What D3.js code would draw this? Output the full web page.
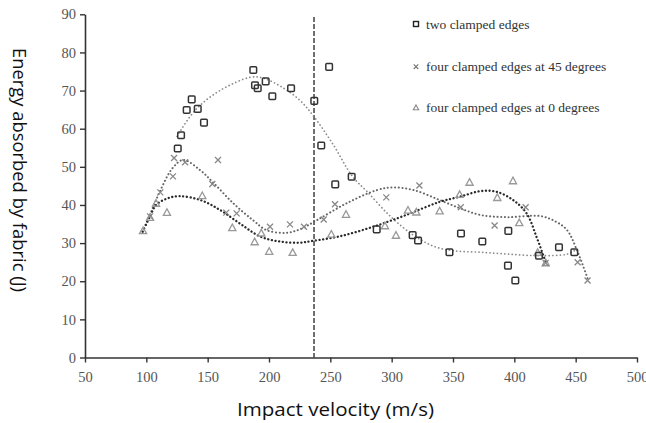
<!DOCTYPE html>
<html>
<head>
<meta charset="utf-8">
<script src="https://cdn.jsdelivr.net/npm/d3@7"></script>
<style>
  body { margin: 0; background: #fff; }
  svg { display: block; }
</style>
</head>
<body>
<svg id="chart" width="646" height="423"></svg>
<script>
// SERIES: two clamped edges (squares)
var two_x = [125.6, 128.3, 132.9, 137, 141.9, 147, 187.2, 188.6, 190.8, 197.3, 202.7, 218, 236.9, 249, 242.6, 267.4,
  254, 287.8, 317.1, 321.5, 347.1, 356.5, 373.9, 395.1, 394.8, 400.8, 420.1, 436.4, 448.9];
var two_y = [54.8, 58.3, 64.9, 67.7, 65.2, 61.6, 75.4, 71.4, 70.6, 72.4, 68.5, 70.6, 67.3, 76.2, 55.6, 47.4,
  45.4, 33.6, 32.1, 30.7, 27.6, 32.5, 30.4, 33.2, 24.1, 20.2, 26.7, 28.9, 27.6];

// SERIES: four clamped edges at 45 degrees (crosses)
var f45_x = [103, 111.4, 121.7, 122.6, 131.6, 153.8, 158.4, 165.2, 173.6, 200.8, 217.1, 228.5, 244.6, 253.8,
  295.6, 322.6, 356.3, 383.9, 409.2, 425.5, 451.6, 459.7];
var f45_y = [37, 43.3, 47.5, 52.3, 51.2, 45.5, 51.8, 38, 37.8, 34.3, 34.9, 34.3, 36.2, 40.2,
  42, 45.1, 39.4, 34.6, 39.4, 24.8, 25, 20.2];

// SERIES: four clamped edges at 0 degrees (triangles)
var f0_x = [97.3, 103, 107.9, 116.8, 145.6, 170.1, 188.3, 193.7, 200.2, 219.3, 250.8, 262.8, 294.5, 303.5,
  313.3, 320.1, 339.1, 355.4, 363.5, 386.1, 398.9, 404, 419, 425.6];
var f0_y = [33.2, 36.7, 40.4, 38, 42.4, 34, 30.3, 32.6, 27.8, 27.5, 32.3, 37.5, 34.5, 32,
  38.6, 38.1, 38.4, 42.7, 45.9, 41.9, 46.3, 35.3, 27.5, 24.8];

// FITTED TREND CURVES
var two_fit_x = [125, 140, 160, 185, 195, 210, 225, 237, 252, 268, 280, 299, 318, 334, 350, 372, 395, 420, 443, 450];
var two_fit_y = [58, 64.9, 70, 73.5, 73.3, 71, 67.5, 63, 56, 47.5, 43.5, 37, 32, 29.2, 28, 27.6, 27.1, 26.7, 27.1, 28.2];

var f45_fit_x = [97, 103, 111, 121, 130, 144, 155, 171, 187, 198, 214, 225, 239, 263, 288, 301, 318, 339, 356, 372, 394, 421, 434, 443, 451, 460];
var f45_fit_y = [33, 37.5, 43.5, 49.5, 51.8, 49.1, 45.7, 40.4, 36, 33.4, 32.7, 33.6, 36, 40.4, 43.9, 44.6, 43.9, 41.3, 39.1, 37.4, 36.8, 37.1, 35.6, 33.4, 28.2, 20.5];

var f0_fit_x = [97, 103, 108, 117, 127, 144, 160, 176, 193, 209, 225, 236, 258, 285, 312, 339, 356, 372, 385, 399, 410, 418, 424, 426];
var f0_fit_y = [33, 37, 40, 41.7, 42.3, 41.3, 38.7, 35.2, 31.7, 30.4, 30.1, 30.6, 31.8, 34.3, 37.4, 40.8, 42.2, 43.6, 43.5, 41.3, 37.8, 31.7, 26.4, 24.5];

// VERTICAL REFERENCE LINE
var ref_velocity = 236.7;

// AXES
var x_ticks = [50, 100, 150, 200, 250, 300, 350, 400, 450, 500];
var y_ticks = [0, 10, 20, 30, 40, 50, 60, 70, 80, 90];

var legend_labels = ["two clamped edges", "four clamped edges at 45 degrees", "four clamped edges at 0 degrees"];

var serif = "'Liberation Serif', 'Times New Roman', 'DejaVu Serif', serif";

var svg = d3.select("#chart");

var xScale = d3.scaleLinear().domain([50, 500]).range([85, 637]);
var yScale = d3.scaleLinear().domain([0, 90]).range([357.5, 14.3]);

// x axis
var x_axis = svg.append("g")
  .attr("transform", "translate(0," + yScale(0) + ")")
  .call(d3.axisBottom(xScale).tickValues(x_ticks).tickSize(5).tickSizeOuter(0).tickPadding(4));

// y axis
var y_axis = svg.append("g")
  .attr("transform", "translate(" + xScale(50) + ",0)")
  .call(d3.axisLeft(yScale).tickValues(y_ticks).tickSize(5).tickSizeOuter(0).tickPadding(4));

[x_axis, y_axis].forEach(a => {
  a.attr("font-family", serif).attr("font-size", 14.5);
  a.select(".domain").attr("stroke", "#333").attr("stroke-width", 1.6);
  a.selectAll(".tick line").attr("stroke", "#333").attr("stroke-width", 1.4);
  a.selectAll(".tick text").attr("fill", "#555");
});
x_axis.selectAll(".tick text").attr("dy", "1.05em");

// dashed reference line
svg.append("line")
  .attr("x1", xScale(ref_velocity)).attr("x2", xScale(ref_velocity))
  .attr("y1", yScale(89.3)).attr("y2", yScale(0))
  .attr("stroke", "#333").attr("stroke-width", 1.4)
  .attr("stroke-dasharray", "5,2");

// trend curves
var line = d3.line()
  .x(d => xScale(d[0]))
  .y(d => yScale(d[1]))
  .curve(d3.curveCatmullRom.alpha(0.5));

var fits = [
  {x: two_fit_x, y: two_fit_y, colour: "#8a8a8a", width: 1.7},
  {x: f45_fit_x, y: f45_fit_y, colour: "#666", width: 2},
  {x: f0_fit_x, y: f0_fit_y, colour: "#2a2a2a", width: 2.3}
];
fits.forEach(f => {
  svg.append("path")
    .datum(f.x.map((v, i) => [v, f.y[i]]))
    .attr("d", line)
    .attr("fill", "none")
    .attr("stroke", f.colour)
    .attr("stroke-width", f.width)
    .attr("stroke-linecap", "round")
    .attr("stroke-dasharray", "0.1,3.6");
});

// marker drawing
function drawSquare(g, cx, cy) {
  g.append("rect")
    .attr("x", cx - 3.3).attr("y", cy - 3.3)
    .attr("width", 6.6).attr("height", 6.6).attr("rx", 1)
    .attr("fill", "none").attr("stroke", "#333").attr("stroke-width", 1.5);
}
function drawCross(g, cx, cy) {
  g.append("path")
    .attr("d", "M" + (cx - 3) + "," + (cy - 3) + "L" + (cx + 3) + "," + (cy + 3) +
      "M" + (cx - 3) + "," + (cy + 3) + "L" + (cx + 3) + "," + (cy - 3))
    .attr("stroke", "#888").attr("stroke-width", 1.3).attr("fill", "none");
}
function drawTriangle(g, cx, cy) {
  g.append("path")
    .attr("d", "M" + cx + "," + (cy - 3.8) + "L" + (cx + 3.6) + "," + (cy + 2.8) + "L" + (cx - 3.6) + "," + (cy + 2.8) + "Z")
    .attr("stroke", "#999").attr("stroke-width", 1.3).attr("fill", "none");
}

var marks = svg.append("g");
f0_x.forEach((v, i) => drawTriangle(marks, xScale(v), yScale(f0_y[i])));
f45_x.forEach((v, i) => drawCross(marks, xScale(v), yScale(f45_y[i])));
two_x.forEach((v, i) => drawSquare(marks, xScale(v), yScale(two_y[i])));

// legend
var legend = svg.append("g");
var legend_rows = [24, 66.7, 107.7];
var legend_drawers = [
  (g, cx, cy) => { g.append("rect").attr("x", cx - 2.5).attr("y", cy - 2.5).attr("width", 5).attr("height", 5)
      .attr("fill", "none").attr("stroke", "#222").attr("stroke-width", 1.4); },
  (g, cx, cy) => { g.append("path").attr("d", "M" + (cx - 2.3) + "," + (cy - 2.3) + "L" + (cx + 2.3) + "," + (cy + 2.3) +
      "M" + (cx - 2.3) + "," + (cy + 2.3) + "L" + (cx + 2.3) + "," + (cy - 2.3)).attr("stroke", "#777").attr("stroke-width", 1.1); },
  (g, cx, cy) => { g.append("path").attr("d", "M" + cx + "," + (cy - 2.8) + "L" + (cx + 2.7) + "," + (cy + 2) + "L" + (cx - 2.7) + "," + (cy + 2) + "Z")
      .attr("fill", "none").attr("stroke", "#888").attr("stroke-width", 1.1); }
];
legend_labels.forEach((lab, i) => {
  legend_drawers[i](legend, 416, legend_rows[i]);
  legend.append("text")
    .attr("font-family", serif)
    .attr("font-size", 13.5)
    .attr("fill", "#333")
    .attr("x", 426)
    .attr("y", legend_rows[i] + 4.5)
    .text(lab);
});

// axis titles
svg.append("text")
  .attr("font-family", "'Open Sans', sans-serif")
  .attr("font-size", 19)
  .attr("fill", "#111")
  .attr("x", 237)
  .attr("y", 416)
  .attr("textLength", 197)
  .attr("lengthAdjust", "spacingAndGlyphs")
  .text("Impact velocity (m/s)");

svg.append("text")
  .attr("font-family", "'Open Sans', sans-serif")
  .attr("font-size", 19)
  .attr("fill", "#111")
  .attr("transform", "translate(13,48) rotate(90)")
  .attr("textLength", 244)
  .attr("lengthAdjust", "spacingAndGlyphs")
  .text("Energy absorbed by fabric (J)");
</script>
</body>
</html>
